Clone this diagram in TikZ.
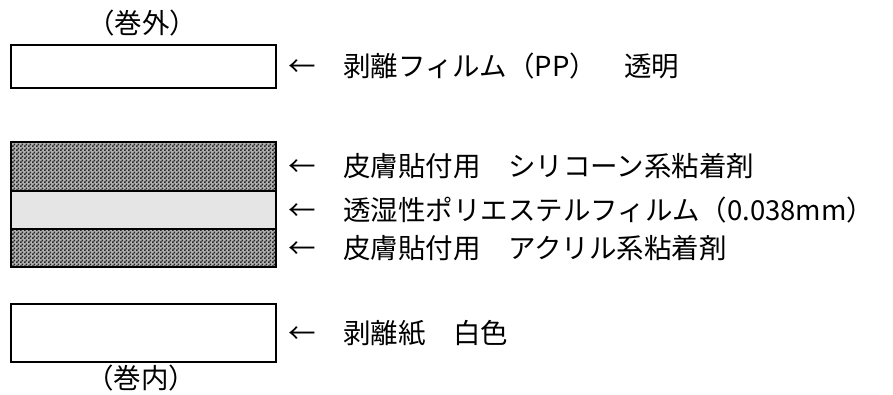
\documentclass[tikz,border=0pt]{standalone}
\usepackage{fontspec}
\setmainfont{Noto Sans CJK JP}
\usetikzlibrary{patterns}

% fine checker for the adhesive layers
\pgfdeclarepatternformonly{finecheck}{\pgfpointorigin}{\pgfqpoint{4pt}{4pt}}{\pgfqpoint{4pt}{4pt}}{%
  \pgfpathrectangle{\pgfpointorigin}{\pgfqpoint{2pt}{2pt}}%
  \pgfpathrectangle{\pgfqpoint{2pt}{2pt}}{\pgfqpoint{2pt}{2pt}}%
  \pgfusepath{fill}}

\tikzset{
  layer/.style={line width=1.6pt},
  glue/.style={preaction={fill=gray!60}, pattern=finecheck, pattern color=black!85},
  lbl/.style={anchor=west, inner sep=0pt, font=\fontsize{27.5}{32}\selectfont},
  side/.style={inner sep=0pt, font=\fontsize{27.5}{32}\selectfont},
}

\begin{document}
\begin{tikzpicture}[x=1pt,y=-1pt]
  \useasboundingbox (0,0) rectangle (893,394);

  % Release film (outer side)
  \node[side] (outer) at (142,23) {（巻外）};
  \draw[layer] (11,45) rectangle (276,88);
  \node[lbl] (film) at (288,66) {←　剥離フィルム（PP）　透明};

  % Adhesive / film / adhesive stack
  \fill[glue] (11,142) rectangle (276,191);
  \fill[gray!20] (11,191) rectangle (276,229);
  \fill[glue] (11,229) rectangle (276,267);
  \draw[layer] (11,142) rectangle (276,267);
  \draw[layer] (11,191) -- (276,191);
  \draw[layer] (11,229) -- (276,229);
  \node[lbl] (silicone) at (288,166) {←　皮膚貼付用　シリコーン系粘着剤};
  \node[lbl] (pet) at (288,210) {←　透湿性ポリエステルフィルム（0.038mm）};
  \node[lbl] (acryl) at (288,248) {←　皮膚貼付用　アクリル系粘着剤};

  % Release paper (inner side)
  \draw[layer] (11,304) rectangle (276,362);
  \node[lbl] (paper) at (288,333) {←　剥離紙　白色};
  \node[side] (inner) at (141,378) {（巻内）};
\end{tikzpicture}
\end{document}
